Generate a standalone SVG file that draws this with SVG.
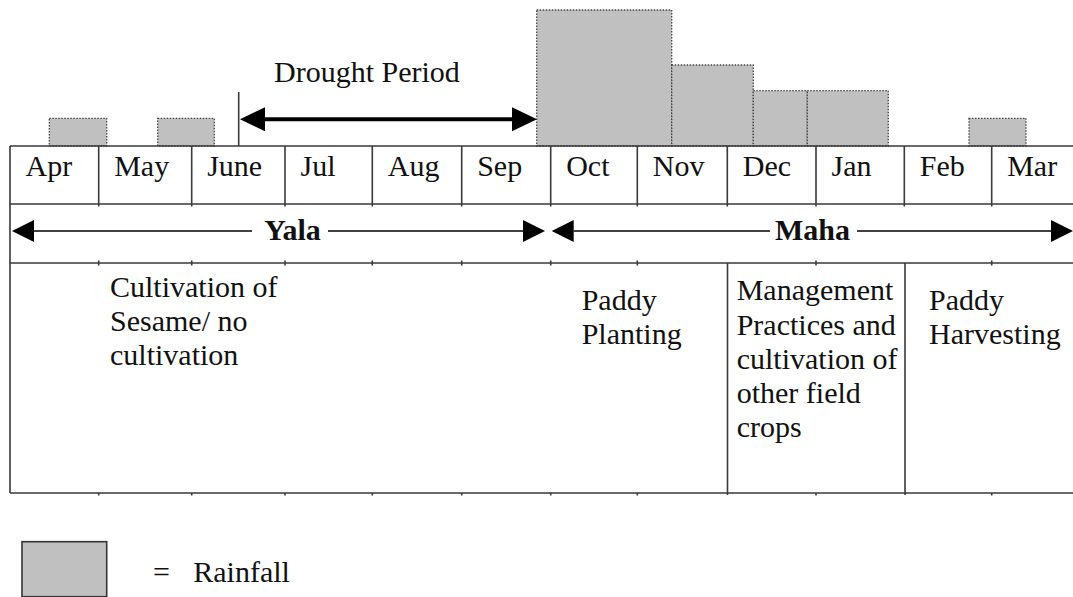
<svg xmlns="http://www.w3.org/2000/svg" width="1073" height="597" viewBox="0 0 1073 597">
<style>
text{font-family:'Liberation Serif',serif;font-size:30px;fill:#111}
.b{font-weight:bold}
.g{stroke:#3a3a3a;stroke-width:1.6;fill:none}
.rain{fill:#c0c0c0;stroke:#444;stroke-width:1.3;stroke-dasharray:1.5 1.5}
.arr{stroke:#000;stroke-width:1.4;fill:none}
.thick{stroke:#000;stroke-width:4;fill:none}
</style>
<defs>
<marker id="big" markerUnits="userSpaceOnUse" markerWidth="26" markerHeight="26" viewBox="0 0 26 24" refX="0" refY="12" orient="auto-start-reverse">
<path d="M0,0 L25,12 L0,24 z" fill="#000"/>
</marker>
<marker id="sm" markerUnits="userSpaceOnUse" markerWidth="23" markerHeight="22" viewBox="0 0 23 22" refX="0" refY="11" orient="auto-start-reverse">
<path d="M0,0 L22,11 L0,22 z" fill="#000"/>
</marker>
</defs>
<rect width="1073" height="597" fill="#fff"/>

<g id="rainfall">
<rect class="rain" x="49.3" y="118.3" width="57.4" height="27.7"/>
<rect class="rain" x="157.7" y="118.3" width="56.6" height="27.7"/>
<rect class="rain" x="536.7" y="10" width="135" height="136"/>
<rect class="rain" x="671.7" y="65" width="81.6" height="81"/>
<rect class="rain" x="753.3" y="90.7" width="54" height="55.3"/>
<rect class="rain" x="807.3" y="90.7" width="81" height="55.3"/>
<rect class="rain" x="969" y="118.3" width="57" height="27.7"/>
</g>

<g id="grid">
<path class="g" d="M10,146 H1073 M10,204 H1073 M10,263 H1073 M10,493 H1073 M10,146 V493"/>
<path class="g" d="M98.7,146 V204 M191.7,146 V204 M285,146 V204 M372.3,146 V204 M461.7,146 V204 M550.7,146 V204 M637.3,146 V204 M727.3,146 V204 M816,146 V204 M904.3,146 V204 M991.7,146 V204"/>
<path class="g" stroke-width="1.2" d="M98.7,204 v2.5 M191.7,204 v2.5 M285,204 v2.5 M372.3,204 v2.5 M461.7,204 v2.5 M550.7,204 v2.5 M637.3,204 v2.5 M727.3,204 v2.5 M816,204 v2.5 M904.3,204 v2.5 M991.7,204 v2.5 M98.7,260.5 v5 M191.7,260.5 v5 M285,260.5 v5 M372.3,260.5 v5 M461.7,260.5 v5 M550.7,260.5 v5 M637.3,260.5 v5 M816,260.5 v5 M991.7,260.5 v5 M98.7,493 v2.5 M191.7,493 v2.5 M285,493 v2.5 M372.3,493 v2.5 M461.7,493 v2.5 M550.7,493 v2.5 M637.3,493 v2.5 M816,493 v2.5 M991.7,493 v2.5"/>
<path class="g" d="M727.5,263 V495 M905,263 V495"/>
</g>

<g id="months" font-family="'Liberation Serif', serif">
<text x="25.5" y="176">Apr</text>
<text x="114.2" y="176">May</text>
<text x="207.2" y="176">June</text>
<text x="300.5" y="176">Jul</text>
<text x="387.8" y="176">Aug</text>
<text x="477.2" y="176">Sep</text>
<text x="566.2" y="176">Oct</text>
<text x="652.8" y="176">Nov</text>
<text x="742.8" y="176">Dec</text>
<text x="831.5" y="176">Jan</text>
<text x="919.8" y="176">Feb</text>
<text x="1007.2" y="176">Mar</text>
</g>

<g id="drought">
<text x="274" y="82">Drought Period</text>
<path class="g" stroke="#000" d="M238.7,92 V146"/>
</g>

<g id="yala">
<text class="b" x="292.5" y="240" text-anchor="middle">Yala</text>
</g>
<g id="maha">
<text class="b" x="812.5" y="240" text-anchor="middle">Maha</text>
</g>

<g id="connectors">
<line class="thick" x1="265" y1="119.3" x2="512" y2="119.3" marker-start="url(#big)" marker-end="url(#big)"/>
<line class="arr" x1="34" y1="231" x2="252" y2="231" marker-start="url(#sm)"/>
<line class="arr" x1="328" y1="231" x2="523" y2="231" marker-end="url(#sm)"/>
<line class="arr" x1="573.7" y1="231" x2="770" y2="231" marker-start="url(#sm)"/>
<line class="arr" x1="857" y1="231" x2="1051" y2="231" marker-end="url(#sm)"/>
</g>

<g id="sesame">
<text><tspan x="110" y="296.7">Cultivation of</tspan><tspan x="110" y="330.7">Sesame/ no</tspan><tspan x="110" y="365">cultivation</tspan></text>
</g>
<g id="planting">
<text><tspan x="581.7" y="310">Paddy</tspan><tspan x="581.7" y="343.5">Planting</tspan></text>
</g>
<g id="management">
<text><tspan x="736.7" y="300">Management</tspan><tspan x="736.7" y="334.5">Practices and</tspan><tspan x="736.7" y="369">cultivation of</tspan><tspan x="736.7" y="403.3">other field</tspan><tspan x="736.7" y="437">crops</tspan></text>
</g>
<g id="harvesting">
<text><tspan x="929" y="310">Paddy</tspan><tspan x="929" y="343.5">Harvesting</tspan></text>
</g>

<g id="legend">
<rect x="22" y="541.7" width="84.7" height="55" fill="#c0c0c0" stroke="#333" stroke-width="1.6"/>
<text x="153" y="581.7">=</text>
<text x="193.3" y="581.7">Rainfall</text>
</g>
</svg>
